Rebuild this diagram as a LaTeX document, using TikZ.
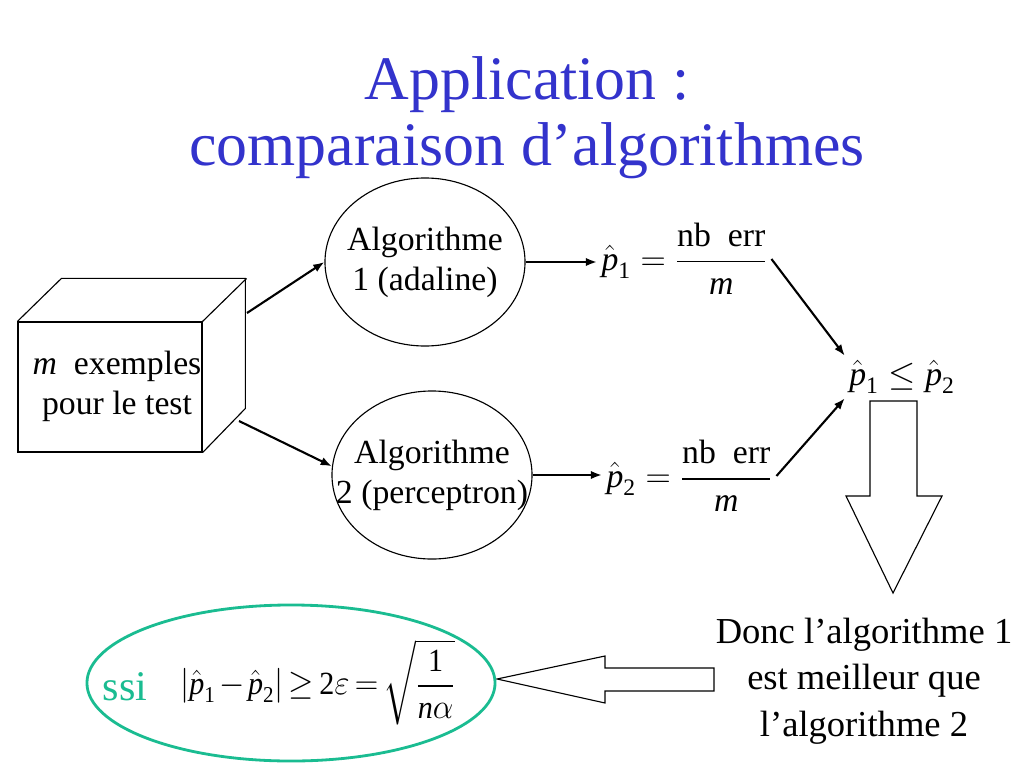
\documentclass[tikz,border=0pt]{standalone}
\usepackage{amsmath}
\usepackage{graphicx}
\usepackage{fontspec}
\setmainfont{Liberation Serif}
\usetikzlibrary{shapes.geometric,arrows.meta}
\definecolor{titleblue}{RGB}{51,51,204}
\definecolor{ssigreen}{RGB}{26,188,145}
\newcommand{\ph}[1]{\hat{\textit{p}}_{\text{#1}}}
\newcommand{\nberr}{\dfrac{\text{nb\ \ err}}{\textit{m}}}
\newcommand{\cl}[1]{\makebox[0pt]{#1}}

\begin{document}
\begin{tikzpicture}[x=0.025cm,y=-0.025cm,
  txt/.style={font=\fontsize{24}{28.5}\selectfont},
  algo/.style={draw,ellipse,line width=0.8pt,minimum width=5cm,minimum height=4.2cm,inner sep=0pt,align=center,txt},
  flow/.style={line width=1.5pt,-{Latex[length=8pt,width=6pt]}},
  block/.style={draw,line width=0.8pt}]
\useasboundingbox (0,0) rectangle (1024,768);
\node[titleblue,font=\fontsize{44}{50}\selectfont,anchor=base] (title1) at (527,100) {Application :};
\node[titleblue,font=\fontsize{44}{50}\selectfont,anchor=base] (title2) at (527,165) {comparaison d’algorithmes};
\node[draw,line width=0.8pt,minimum width=4.6cm,minimum height=3.25cm,inner sep=0pt] (cube) at (110,387) {};
\draw[line width=0.8pt] (cube.north west) -- ++(44,-43) -- ++(184,0) -- ++(0,130) -- (cube.south east);
\draw[line width=0.8pt] (cube.north east) -- ++(44,-43);
\node[txt,align=center] (cubetext) at (117,386) {\textit{m}\ \ exemples\\pour le test};
\node[algo] (algo1) at (425,262) {\cl{Algorithme}\\\cl{1 (adaline)}};
\node[algo] (algo2) at (432,475) {\cl{Algorithme}\\\cl{2 (perceptron)}};
\coordinate (out1) at (247,313);
\coordinate (out2) at (239,421);
\draw[flow] (out1) -- (algo1.west);
\draw[flow] (out2) -- (algo2.175);
\node[txt,anchor=west,inner sep=3pt] (p1) at (597,259) {$\ph{1} = \nberr$};
\node[txt,anchor=west,inner sep=3pt] (p2) at (602,476) {$\ph{2} = \nberr$};
\draw[flow] (algo1.east) -- (algo1.east -| p1.west);
\draw[flow] (algo2.east) -- (algo2.east -| p2.west);
\node[txt,inner sep=3pt] (res) at (902,377) {$\ph{1} \leq \ph{2}$};
\draw[flow] (p1.east) -- (res.north west);
\draw[flow] (p2.east) -- (res.south west);
\draw[block] (870,401) -- (917,401) -- (917,496) -- (942,496) -- (893,593) -- (846,496) -- (870,496) -- cycle;
\node[font=\fontsize{26}{33}\selectfont,align=center] (donc) at (864,681) {Donc l’algorithme 1\\est meilleur que\\l’algorithme 2};
\draw[block] (714,668) -- (605,668) -- (605,656) -- (497,679) -- (605,703) -- (605,691) -- (714,691) -- cycle;
\node[draw=ssigreen,ellipse,line width=2pt,minimum width=10.2cm,minimum height=3.9cm] (cond) at (291,683) {};
\node[ssigreen,font=\fontsize{30}{36}\selectfont,anchor=base] (ssi) at (125,700) {ssi};
\node[font=\fontsize{23}{27}\selectfont,anchor=west,inner sep=0pt] (ineq) at (180,682) {\scalebox{0.93}[1]{$\medmuskip=2mu\thickmuskip=3mu\left|\ph{1} - \ph{2}\right| \geq \text{2}\varepsilon = \sqrt{\dfrac{\text{1}}{\textit{n}\alpha}}$}};
\end{tikzpicture}
\end{document}
